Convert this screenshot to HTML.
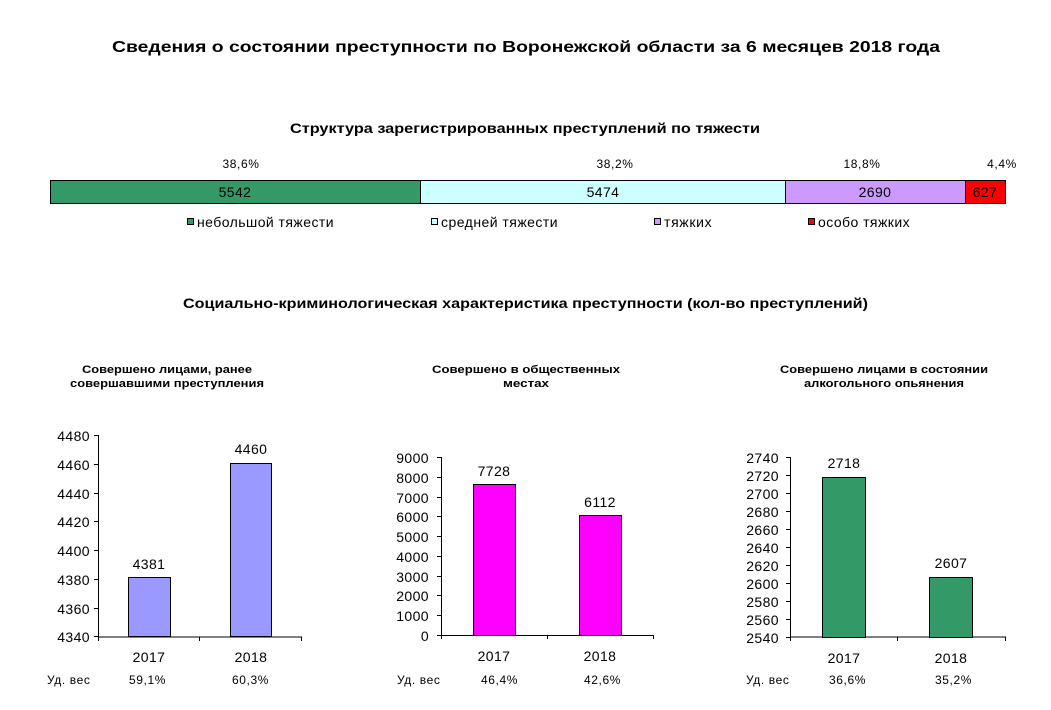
<!DOCTYPE html>
<html><head><meta charset="utf-8"><style>
body{margin:0;background:#fff}
svg{display:block;font-family:"Liberation Sans",sans-serif}
.t{font-size:14px;letter-spacing:0.4px}
.s{font-size:12px;letter-spacing:0.6px}
.b{font-weight:bold}
</style></head><body>
<svg width="1051" height="710" viewBox="0 0 1051 710">
<text x="112" y="52" class="b" font-size="16" textLength="828" lengthAdjust="spacingAndGlyphs">Сведения о состоянии преступности по Воронежской области  за 6 месяцев 2018 года</text>
<text x="290" y="133" class="b" font-size="14" textLength="470" lengthAdjust="spacingAndGlyphs">Структура зарегистрированных преступлений по тяжести</text>
<g class="s" text-anchor="middle">
<text x="241" y="168">38,6%</text><text x="615" y="168">38,2%</text><text x="862" y="168">18,8%</text><text x="1002" y="168">4,4%</text>
</g>
<g stroke="#000" stroke-width="1">
<rect x="50.5" y="180.5" width="370" height="23" fill="#339966"/>
<rect x="420.5" y="180.5" width="365" height="23" fill="#ccffff"/>
<rect x="785.5" y="180.5" width="180" height="23" fill="#cc99ff"/>
<rect x="965.5" y="180.5" width="40" height="23" fill="#ff0000"/>
</g>
<g class="t" text-anchor="middle">
<text x="235" y="197">5542</text><text x="603" y="197">5474</text><text x="875" y="197">2690</text><text x="985" y="197">627</text>
</g>
<g stroke="#000" stroke-width="1">
<rect x="187.5" y="218.5" width="6" height="6" fill="#339966"/>
<rect x="431.5" y="218.5" width="6" height="6" fill="#ccffff"/>
<rect x="654.5" y="218.5" width="6" height="6" fill="#cc99ff"/>
<rect x="808.5" y="218.5" width="6" height="6" fill="#ff0000"/>
</g>
<g class="t">
<text x="197" y="227" textLength="137">небольшой тяжести</text><text x="441" y="227" textLength="117">средней тяжести</text><text x="664" y="227" textLength="48">тяжких</text><text x="818" y="227" textLength="92">особо тяжких</text>
</g>
<text x="183" y="308" class="b" font-size="14" textLength="685" lengthAdjust="spacingAndGlyphs">Социально-криминологическая характеристика преступности (кол-во преступлений)</text>
<g class="b" font-size="11" text-anchor="middle">
<text x="167" y="373" textLength="170" lengthAdjust="spacingAndGlyphs">Совершено лицами, ранее</text><text x="167" y="387" textLength="194" lengthAdjust="spacingAndGlyphs">совершавшими преступления</text>
<text x="526" y="373" textLength="188" lengthAdjust="spacingAndGlyphs">Совершено в общественных</text><text x="526" y="387" textLength="46" lengthAdjust="spacingAndGlyphs">местах</text>
<text x="884" y="373" textLength="208" lengthAdjust="spacingAndGlyphs">Совершено лицами в состоянии</text><text x="884" y="387" textLength="160" lengthAdjust="spacingAndGlyphs">алкогольного опьянения</text>
</g>
<!-- chart 1 -->
<g stroke="#000" stroke-width="1" fill="none">
<path d="M98.5 435V637H302M94 435.5H98M94 464.5H98M94 493.5H98M94 521.5H98M94 550.5H98M94 579.5H98M94 608.5H98M94 636.5H98M98.5 637v4M199.5 637v4M301.5 637v4"/>
<rect x="128.5" y="577.5" width="42" height="59" fill="#9999ff"/>
<rect x="230.5" y="463.5" width="41" height="173" fill="#9999ff"/>
</g>
<g class="t" text-anchor="end">
<text x="90" y="441">4480</text><text x="90" y="470">4460</text><text x="90" y="499">4440</text><text x="90" y="527">4420</text><text x="90" y="556">4400</text><text x="90" y="585">4380</text><text x="90" y="614">4360</text><text x="90" y="642">4340</text>
</g>
<g class="t" text-anchor="middle">
<text x="149" y="569">4381</text><text x="251" y="454">4460</text>
<text x="149" y="662">2017</text><text x="251" y="662">2018</text>
</g>
<g class="s"><text x="47" y="684">Уд. вес</text><text x="129" y="684">59,1%</text><text x="232" y="684">60,3%</text></g>
<!-- chart 2 -->
<g stroke="#000" stroke-width="1" fill="none">
<path d="M441.5 457V635.5H653M437 457.5H441M437 477.5H441M437 497.5H441M437 516.5H441M437 536.5H441M437 556.5H441M437 576.5H441M437 595.5H441M437 615.5H441M437 635.5H441M441.5 635v4M547.5 635v4M653.5 635v4"/>
<rect x="473.5" y="484.5" width="42" height="151" fill="#ff00ff"/>
<rect x="579.5" y="515.5" width="42" height="120" fill="#ff00ff"/>
</g>
<g class="t" text-anchor="end">
<text x="429" y="463">9000</text><text x="429" y="483">8000</text><text x="429" y="503">7000</text><text x="429" y="522">6000</text><text x="429" y="542">5000</text><text x="429" y="562">4000</text><text x="429" y="582">3000</text><text x="429" y="601">2000</text><text x="429" y="621">1000</text><text x="429" y="641">0</text>
</g>
<g class="t" text-anchor="middle">
<text x="494" y="476">7728</text><text x="600" y="507">6112</text>
<text x="494" y="661">2017</text><text x="600" y="661">2018</text>
</g>
<g class="s"><text x="397" y="684">Уд. вес</text><text x="481" y="684">46,4%</text><text x="584" y="684">42,6%</text></g>
<!-- chart 3 -->
<g stroke="#000" stroke-width="1" fill="none">
<path d="M790.5 457V637H1006M786 457.5H790M786 475.5H790M786 493.5H790M786 511.5H790M786 529.5H790M786 547.5H790M786 565.5H790M786 583.5H790M786 601.5H790M786 619.5H790M786 637.5H790M790.5 637v4M897.5 637v4M1005.5 637v4"/>
<rect x="822.5" y="477.5" width="43" height="160" fill="#339966"/>
<rect x="929.5" y="577.5" width="43" height="60" fill="#339966"/>
</g>
<g class="t" text-anchor="end">
<text x="779" y="463">2740</text><text x="779" y="481">2720</text><text x="779" y="499">2700</text><text x="779" y="517">2680</text><text x="779" y="535">2660</text><text x="779" y="553">2640</text><text x="779" y="571">2620</text><text x="779" y="589">2600</text><text x="779" y="607">2580</text><text x="779" y="625">2560</text><text x="779" y="643">2540</text>
</g>
<g class="t" text-anchor="middle">
<text x="844" y="468">2718</text><text x="951" y="568">2607</text>
<text x="844" y="663">2017</text><text x="951" y="663">2018</text>
</g>
<g class="s"><text x="746" y="684">Уд. вес</text><text x="829" y="684">36,6%</text><text x="935" y="684">35,2%</text></g>
</svg>
</body></html>
